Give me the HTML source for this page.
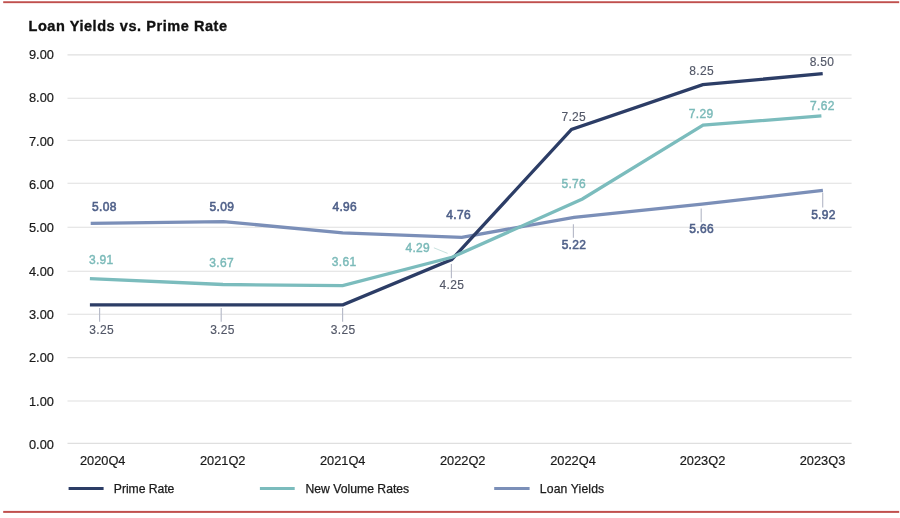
<!DOCTYPE html>
<html><head><meta charset="utf-8"><title>Loan Yields vs. Prime Rate</title>
<style>
html,body{margin:0;padding:0;background:#fff;}
body{width:900px;height:518px;overflow:hidden;font-family:"Liberation Sans",sans-serif;}
svg{display:block;font-family:"Liberation Sans",sans-serif;}
svg{will-change:transform;}
.grid line{stroke:#dfdfdf;stroke-width:1.1;}
.ax text{font-size:12.8px;fill:#1a1a1a;stroke:#1a1a1a;stroke-width:0.2;}
.lp{font-size:12px;letter-spacing:0.32px;fill:#525767;stroke:#525767;stroke-width:0.15;}
.lt{font-size:12px;letter-spacing:0.32px;fill:#7bbab9;stroke:#7bbab9;stroke-width:0.42;}
.ll{font-size:12px;letter-spacing:0.32px;fill:#4f6089;stroke:#4f6089;stroke-width:0.55;}
.lead line{stroke:#b6bac8;stroke-width:1.15;}
.leg text{font-size:12.2px;fill:#1a1a1a;stroke:#1a1a1a;stroke-width:0.25;}
</style></head><body>
<svg width="900" height="518" viewBox="0 0 900 518">
<rect width="900" height="518" fill="#ffffff"/>
<rect x="3.2" y="1.25" width="896" height="1.9" fill="#c0504e"/>
<rect x="3.2" y="510.9" width="896" height="2" fill="#c0504e"/>
<text x="28.5" y="31.1" font-size="14.5" font-weight="bold" fill="#111" letter-spacing="0.56" stroke="#111" stroke-width="0.35">Loan Yields vs. Prime Rate</text>
<g class="grid"><line x1="67.5" x2="851.6" y1="443.40" y2="443.40"/><line x1="67.5" x2="851.6" y1="401.00" y2="401.00"/><line x1="67.5" x2="851.6" y1="357.60" y2="357.60"/><line x1="67.5" x2="851.6" y1="314.30" y2="314.30"/><line x1="67.5" x2="851.6" y1="271.20" y2="271.20"/><line x1="67.5" x2="851.6" y1="227.30" y2="227.30"/><line x1="67.5" x2="851.6" y1="183.30" y2="183.30"/><line x1="67.5" x2="851.6" y1="140.40" y2="140.40"/><line x1="67.5" x2="851.6" y1="98.20" y2="98.20"/><line x1="67.5" x2="851.6" y1="54.90" y2="54.90"/></g>
<g class="ax"><text x="29" y="449.15">0.00</text><text x="29" y="405.80">1.00</text><text x="29" y="362.45">2.00</text><text x="29" y="319.10">3.00</text><text x="29" y="275.75">4.00</text><text x="29" y="232.40">5.00</text><text x="29" y="189.05">6.00</text><text x="29" y="145.70">7.00</text><text x="29" y="102.35">8.00</text><text x="29" y="59.00">9.00</text><text x="102.7" y="465.3" text-anchor="middle">2020Q4</text><text x="222.7" y="465.3" text-anchor="middle">2021Q2</text><text x="342.7" y="465.3" text-anchor="middle">2021Q4</text><text x="462.7" y="465.3" text-anchor="middle">2022Q2</text><text x="573" y="465.3" text-anchor="middle">2022Q4</text><text x="702.5" y="465.3" text-anchor="middle">2023Q2</text><text x="822.5" y="465.3" text-anchor="middle">2023Q3</text></g>
<g fill="none" stroke-width="3.3" stroke-linejoin="miter" stroke-linecap="butt">
<polyline stroke="#7b8fb8" points="90.7,223.3 223.5,221.6 342.7,232.9 461.8,237.3 574,217.3 702,204.2 822.9,190.4"/>
<polyline stroke="#2c3d66" points="89.9,304.8 342.9,304.8 451.7,259.6 571.5,129.4 702.8,84.7 822.7,73.7"/>
<polyline stroke="#7bbcbd" points="89.9,278.6 223,284.5 342.7,285.6 451.9,257.3 582.4,199 703.1,125.2 821.4,115.9"/>
</g>
<g class="lead"><line x1="99.6" y1="308" x2="99.6" y2="321.8"/><line x1="221.2" y1="308" x2="221.2" y2="321.8"/><line x1="342.6" y1="308" x2="342.6" y2="321.8"/><line x1="451.4" y1="264.1" x2="451.4" y2="278.3"/><line x1="573.4" y1="224.2" x2="573.4" y2="237.7"/><line x1="701.2" y1="208.4" x2="701.2" y2="222.3"/><line x1="822.7" y1="192.5" x2="822.7" y2="207.6"/><line x1="433.9" y1="247.8" x2="447.6" y2="253.4" style="stroke:#c9e2df;stroke-width:1"/></g>
<text class="lp" x="101.56" y="334.1" text-anchor="middle">3.25</text><text class="lp" x="222.46" y="334.1" text-anchor="middle">3.25</text><text class="lp" x="343.16" y="334.1" text-anchor="middle">3.25</text><text class="lp" x="451.86" y="288.6" text-anchor="middle">4.25</text><text class="lp" x="573.76" y="120.5" text-anchor="middle">7.25</text><text class="lp" x="701.66" y="74.5" text-anchor="middle">8.25</text><text class="lp" x="821.96" y="65.5" text-anchor="middle">8.50</text><text class="lt" x="101.26" y="263.7" text-anchor="middle">3.91</text><text class="lt" x="221.66" y="266.5" text-anchor="middle">3.67</text><text class="lt" x="344.16" y="265.9" text-anchor="middle">3.61</text><text class="lt" x="417.76" y="252.2" text-anchor="middle">4.29</text><text class="lt" x="573.76" y="187.5" text-anchor="middle">5.76</text><text class="lt" x="701.16" y="118.2" text-anchor="middle">7.29</text><text class="lt" x="822.36" y="109.7" text-anchor="middle">7.62</text><text class="ll" x="104.36" y="210.8" text-anchor="middle">5.08</text><text class="ll" x="221.86" y="210.8" text-anchor="middle">5.09</text><text class="ll" x="344.76" y="210.9" text-anchor="middle">4.96</text><text class="ll" x="458.66" y="218.7" text-anchor="middle">4.76</text><text class="ll" x="573.96" y="249.2" text-anchor="middle">5.22</text><text class="ll" x="701.66" y="233.4" text-anchor="middle">5.66</text><text class="ll" x="823.46" y="218.8" text-anchor="middle">5.92</text>
<g class="leg">
<line x1="68.6" x2="103.6" y1="488.5" y2="488.5" stroke="#2c3d66" stroke-width="3.1"/>
<text x="113.8" y="492.7" textLength="60.5" lengthAdjust="spacing">Prime Rate</text>
<line x1="259.9" x2="294.7" y1="488.5" y2="488.5" stroke="#7bbcbd" stroke-width="3.1"/>
<text x="305.4" y="492.7" textLength="103.8" lengthAdjust="spacing">New Volume Rates</text>
<line x1="494.2" x2="529.6" y1="488.5" y2="488.5" stroke="#7b8fb8" stroke-width="3.1"/>
<text x="539.8" y="492.7" textLength="64.4" lengthAdjust="spacing">Loan Yields</text>
</g>
</svg>
</body></html>
